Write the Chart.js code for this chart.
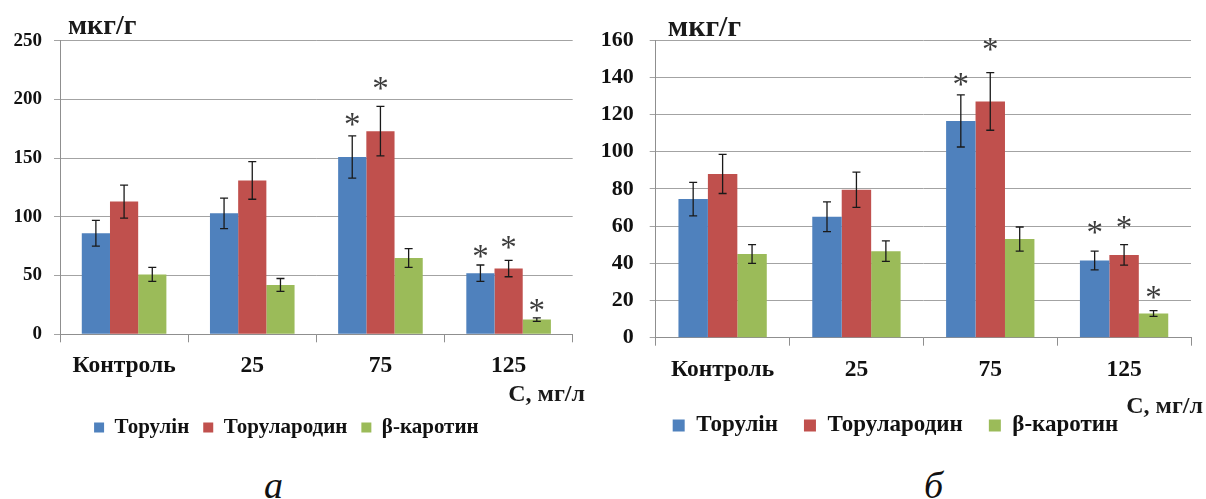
<!DOCTYPE html>
<html>
<head>
<meta charset="utf-8">
<script src="https://cdn.jsdelivr.net/npm/chart.js@4.4.0/dist/chart.umd.min.js"></script>
<style>
  body { margin: 0; background: #fff; width: 1206px; height: 499px; overflow: hidden; position: relative; }
  .panel { position: absolute; top: 0; height: 450px; }
  #panelA { left: 0; width: 600px; }
  #panelB { left: 600px; width: 606px; }
  .sub { position: absolute; top: 463px; font: italic 38px "Liberation Serif", serif; color: #111; }
</style>
</head>
<body>
<div class="panel" id="panelA"><canvas id="chartA"></canvas></div>
<div class="panel" id="panelB"><canvas id="chartB"></canvas></div>
<div class="sub" style="left:264px">а</div>
<div class="sub" style="left:924px">б</div>
<script>
const categories = ['Контроль', '25', '75', '125'];
const seriesNames = ['Торулін', 'Торулародин', 'β-каротин'];
const colors = ['#4F81BD', '#C0504D', '#9BBB59'];

// панель а
const torulinA = [86, 103, 151, 52];
const torulinErrA = [11, 13, 18, 7];
const torularodinA = [113, 131, 173, 56];
const torularodinErrA = [14, 16, 21, 7];
const caroteneA = [51, 42, 65, 12.5];
const caroteneErrA = [6, 5.5, 8, 1.5];
// рівень зірочки на шкалі, null = немає
const starsTorulinA = [null, null, 184, 71];
const starsTorularodinA = [null, null, 214, 79];
const starsCaroteneA = [null, null, null, 25.5];
const yMaxA = 250, yStepA = 50;

// панель б
const torulinB = [74.5, 65, 116.5, 41.5];
const torulinErrB = [9, 8, 14, 5];
const torularodinB = [88, 79.5, 127, 44.5];
const torularodinErrB = [10.5, 9.5, 15.5, 5.5];
const caroteneB = [45, 46.5, 53, 13];
const caroteneErrB = [5, 5.5, 6.5, 1.5];
const starsTorulinB = [null, null, 139.5, 60];
const starsTorularodinB = [null, null, 158, 62.5];
const starsCaroteneB = [null, null, null, 25];
const yMaxB = 160, yStepB = 20;

Chart.defaults.font.family = '"Liberation Serif", "Times New Roman", serif';
Chart.defaults.color = '#111';

const errorBars = {
  id: 'errorBars',
  afterDatasetsDraw(chart) {
    const ctx = chart.ctx, y = chart.scales.y;
    chart.data.datasets.forEach((ds, i) => {
      chart.getDatasetMeta(i).data.forEach((bar, j) => {
        const v = ds.data[j], e = ds.errors[j];
        const top = y.getPixelForValue(v + e), bot = y.getPixelForValue(v - e);
        ctx.save();
        ctx.strokeStyle = '#1a1a1a';
        ctx.lineWidth = 1.3;
        ctx.beginPath();
        ctx.moveTo(bar.x, top); ctx.lineTo(bar.x, bot);
        ctx.moveTo(bar.x - 4, top); ctx.lineTo(bar.x + 4, top);
        ctx.moveTo(bar.x - 4, bot); ctx.lineTo(bar.x + 4, bot);
        ctx.stroke();
        const s = ds.stars[j];
        if (s != null) {
          ctx.fillStyle = '#3c3c3c';
          ctx.font = '33px "Liberation Serif"';
          ctx.textAlign = 'center';
          ctx.textBaseline = 'alphabetic';
          ctx.fillText('*', bar.x, y.getPixelForValue(s) + 16.5);
        }
        ctx.restore();
      });
    });
  }
};

const axisTexts = {
  id: 'axisTexts',
  afterDraw(chart, args, o) {
    const ctx = chart.ctx;
    ctx.save();
    ctx.fillStyle = '#1a1a1a';
    ctx.textBaseline = 'middle';
    ctx.font = 'bold ' + o.unitSize + 'px "Liberation Serif"';
    ctx.textAlign = 'left';
    ctx.fillText('мкг/г', chart.chartArea.left + o.unitDx, o.unitY);
    ctx.font = 'bold ' + o.concSize + 'px "Liberation Serif"';
    ctx.textAlign = 'right';
    ctx.fillText('C, мг/л', o.concX, o.concY);
    ctx.restore();
  }
};

function makeChart(id, series, errs, stars, yMax, yStep, s) {
  new Chart(document.getElementById(id), {
    type: 'bar',
    data: {
      labels: categories,
      datasets: series.map((d, i) => ({
        label: seriesNames[i],
        data: d,
        errors: errs[i],
        stars: stars[i],
        backgroundColor: colors[i],
        borderWidth: 0,
        categoryPercentage: 0.66,
        barPercentage: 1
      }))
    },
    options: {
      responsive: true,
      maintainAspectRatio: false,
      animation: false,
      layout: { padding: { top: s.top, left: 0, right: s.right, bottom: s.legendBottom } },
      scales: {
        x: {
          grid: { drawOnChartArea: false, drawTicks: true, tickLength: 8, offset: true, color: '#8f8f8f' },
          border: { color: '#8f8f8f' },
          ticks: { font: { size: s.catSize, weight: 'bold' }, padding: s.catPad, color: '#111' },
          afterFit(scale) {
            const c = scale.chart;
            scale.height = c.height - s.legendBottom - c.legend.height - s.bottom;
          }
        },
        y: {
          min: 0, max: yMax,
          ticks: { stepSize: yStep, font: { size: s.tickSize, weight: 'bold' }, padding: s.tickPad, color: '#111' },
          grid: { color: '#a3a3a3', tickLength: 6 },
          border: { color: '#8f8f8f' },
          afterFit(scale) { scale.width = s.left; }
        }
      },
      plugins: {
        legend: {
          position: 'bottom',
          labels: { boxWidth: s.box, boxHeight: s.box, font: { size: s.legendSize, weight: 'bold' }, padding: s.legendPad, color: '#111' }
        },
        tooltip: { enabled: false },
        axisTexts: s.texts
      }
    },
    plugins: [errorBars, axisTexts]
  });
}

makeChart('chartA',
  [torulinA, torularodinA, caroteneA],
  [torulinErrA, torularodinErrA, caroteneErrA],
  [starsTorulinA, starsTorularodinA, starsCaroteneA],
  yMaxA, yStepA,
  { top: 40.7, right: 27.3, left: 60, bottom: 334.3, legendBottom: 2, catSize: 23.5, catPad: 10,
    tickSize: 19, tickPad: 12, box: 10, legendSize: 21, legendPad: 14,
    texts: { unitSize: 28, unitDx: 8, unitY: 27, concSize: 24, concX: 585, concY: 395 } });

makeChart('chartB',
  [torulinB, torularodinB, caroteneB],
  [torulinErrB, torularodinErrB, caroteneErrB],
  [starsTorulinB, starsTorularodinB, starsCaroteneB],
  yMaxB, yStepB,
  { top: 40, right: 15, left: 55.7, bottom: 337.7, legendBottom: 3, catSize: 23.5, catPad: 10,
    tickSize: 22, tickPad: 16, box: 12, legendSize: 23, legendPad: 26,
    texts: { unitSize: 30, unitDx: 12, unitY: 28, concSize: 24, concX: 603, concY: 407 } });
</script>
</body>
</html>
